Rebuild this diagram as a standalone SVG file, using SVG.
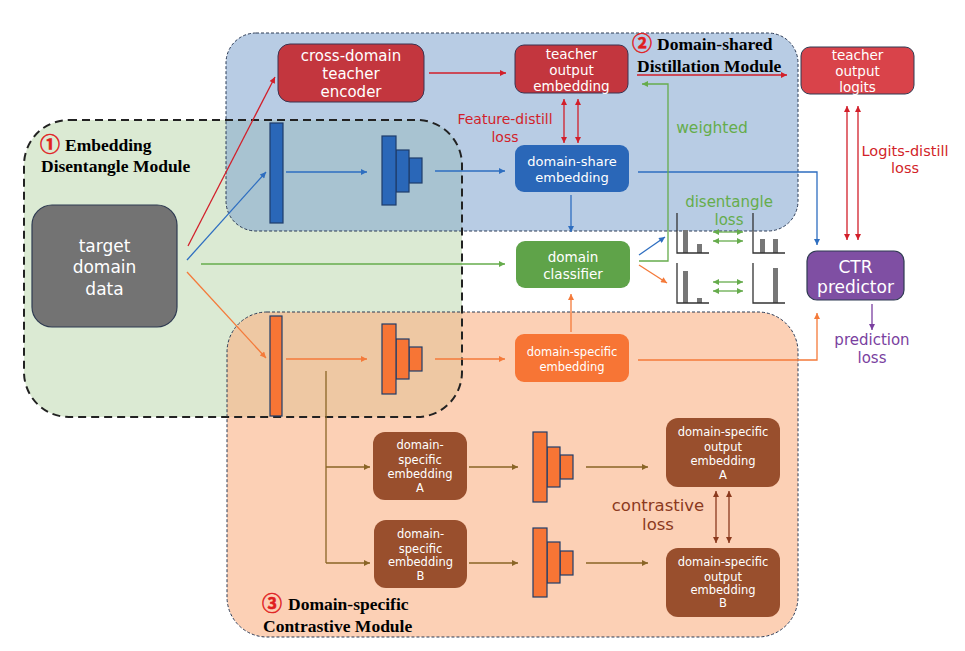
<svg xmlns="http://www.w3.org/2000/svg" width="965" height="651" viewBox="0 0 965 651">
<style>
.t{font-family:"DejaVu Sans","Noto Sans",sans-serif;text-anchor:middle;fill:#fff}
.lb{font-family:"DejaVu Sans","Noto Sans",sans-serif;text-anchor:middle}
.b{font-family:"Liberation Serif","Times New Roman",serif;font-weight:bold;font-size:17.5px;fill:#000}
.c{font-family:"Noto Sans CJK SC","DejaVu Sans",sans-serif;font-size:20px;font-weight:bold;fill:#e0201f;stroke:#e0201f;stroke-width:0.5}
.ln{fill:none;stroke-width:1.3}
.r{stroke:#d21f2a}.bl{stroke:#2e6ec0}.g{stroke:#66ac4c}.o{stroke:#f47a3a}.br{stroke:#8a6526}.db{stroke:#8b3a1e}.p{stroke:#7a3fa0}
.bar{stroke:#1f3c6a;stroke-width:1.2}
.ax{fill:none;stroke:#333;stroke-width:1.3}
.hb{fill:#777}
</style>
<defs>
<marker id="mr" viewBox="0 0 10 10" refX="10" refY="5" markerWidth="8" markerHeight="6" markerUnits="userSpaceOnUse" orient="auto-start-reverse"><path d="M0,0L10,5L0,10z" fill="#d21f2a"/></marker>
<marker id="mb" viewBox="0 0 10 10" refX="10" refY="5" markerWidth="8" markerHeight="6" markerUnits="userSpaceOnUse" orient="auto-start-reverse"><path d="M0,0L10,5L0,10z" fill="#2e6ec0"/></marker>
<marker id="mg" viewBox="0 0 10 10" refX="10" refY="5" markerWidth="8" markerHeight="6" markerUnits="userSpaceOnUse" orient="auto-start-reverse"><path d="M0,0L10,5L0,10z" fill="#66ac4c"/></marker>
<marker id="mo" viewBox="0 0 10 10" refX="10" refY="5" markerWidth="8" markerHeight="6" markerUnits="userSpaceOnUse" orient="auto-start-reverse"><path d="M0,0L10,5L0,10z" fill="#f47a3a"/></marker>
<marker id="mbr" viewBox="0 0 10 10" refX="10" refY="5" markerWidth="8" markerHeight="6" markerUnits="userSpaceOnUse" orient="auto-start-reverse"><path d="M0,0L10,5L0,10z" fill="#8a6526"/></marker>
<marker id="mdb" viewBox="0 0 10 10" refX="10" refY="5" markerWidth="8" markerHeight="6" markerUnits="userSpaceOnUse" orient="auto-start-reverse"><path d="M0,0L10,5L0,10z" fill="#8b3a1e"/></marker>
<marker id="mp" viewBox="0 0 10 10" refX="10" refY="5" markerWidth="8" markerHeight="6" markerUnits="userSpaceOnUse" orient="auto-start-reverse"><path d="M0,0L10,5L0,10z" fill="#7a3fa0"/></marker>
</defs>
<rect width="965" height="651" fill="#fff"/>

<g id="regions">
<rect x="24" y="120" width="438" height="297" rx="45" fill="#dbead3"/>
<rect x="226" y="33" width="572" height="198" rx="30" fill="rgb(130,166,208)" fill-opacity="0.57"/>
<rect x="227" y="312" width="571" height="325" rx="40" fill="rgb(250,177,132)" fill-opacity="0.6"/>
<rect x="226" y="33" width="572" height="198" rx="30" fill="none" stroke="#2b3a55" stroke-width="1" stroke-dasharray="3 2"/>
<rect x="227" y="312" width="571" height="325" rx="40" fill="none" stroke="#2b3a55" stroke-width="1" stroke-dasharray="3 2"/>
<rect x="24" y="120" width="438" height="297" rx="45" fill="none" stroke="#222" stroke-width="2" stroke-dasharray="8 5"/>
</g>

<g id="connectors">
<line class="ln r" x1="188" y1="246" x2="275" y2="77" marker-end="url(#mr)"/>
<line class="ln r" x1="429" y1="73" x2="506" y2="73" marker-end="url(#mr)"/>
<line class="ln r" x1="637" y1="75" x2="787" y2="75" marker-end="url(#mr)"/>
<line class="ln r" x1="564" y1="99" x2="564" y2="143" marker-start="url(#mr)" marker-end="url(#mr)"/>
<line class="ln r" x1="578" y1="99" x2="578" y2="143" marker-start="url(#mr)" marker-end="url(#mr)"/>
<line class="ln r" x1="847" y1="106" x2="847" y2="240" marker-start="url(#mr)" marker-end="url(#mr)"/>
<line class="ln r" x1="858" y1="106" x2="858" y2="240" marker-start="url(#mr)" marker-end="url(#mr)"/>

<line class="ln bl" x1="187" y1="260" x2="266" y2="172" marker-end="url(#mb)"/>
<line class="ln bl" x1="286" y1="172" x2="367" y2="172" marker-end="url(#mb)"/>
<line class="ln bl" x1="435" y1="171" x2="505" y2="171" marker-end="url(#mb)"/>
<line class="ln bl" x1="571" y1="195" x2="571" y2="232" marker-end="url(#mb)"/>
<polyline class="ln bl" points="638,172 817,172 817,245" marker-end="url(#mb)"/>
<line class="ln bl" x1="639" y1="255" x2="665" y2="237" marker-end="url(#mb)"/>

<line class="ln g" x1="201" y1="264" x2="505" y2="264" marker-end="url(#mg)"/>
<polyline class="ln g" points="639,261 668,261 668,84 642,84" marker-end="url(#mg)"/>
<line class="ln g" x1="713" y1="232" x2="743" y2="232" marker-start="url(#mg)" marker-end="url(#mg)"/>
<line class="ln g" x1="713" y1="241" x2="743" y2="241" marker-start="url(#mg)" marker-end="url(#mg)"/>
<line class="ln g" x1="713" y1="282" x2="743" y2="282" marker-start="url(#mg)" marker-end="url(#mg)"/>
<line class="ln g" x1="713" y1="291" x2="743" y2="291" marker-start="url(#mg)" marker-end="url(#mg)"/>

<line class="ln o" x1="639" y1="265" x2="667" y2="283" marker-end="url(#mo)"/>
<line class="ln o" x1="187" y1="272" x2="266" y2="358" marker-end="url(#mo)"/>
<line class="ln o" x1="286" y1="359" x2="367" y2="359" marker-end="url(#mo)"/>
<line class="ln o" x1="435" y1="359" x2="505" y2="359" marker-end="url(#mo)"/>
<line class="ln o" x1="571" y1="332" x2="571" y2="294" marker-end="url(#mo)"/>
<polyline class="ln o" points="638,360 817,360 817,313" marker-end="url(#mo)"/>

<line class="ln p" x1="872" y1="304" x2="872" y2="330" marker-end="url(#mp)"/>

<line class="ln br" x1="326" y1="371" x2="326" y2="563"/>
<line class="ln br" x1="326" y1="467" x2="370" y2="467" marker-end="url(#mbr)"/>
<line class="ln br" x1="326" y1="563" x2="370" y2="563" marker-end="url(#mbr)"/>
<line class="ln br" x1="469" y1="467" x2="518" y2="467" marker-end="url(#mbr)"/>
<line class="ln br" x1="469" y1="563" x2="518" y2="563" marker-end="url(#mbr)"/>
<line class="ln br" x1="586" y1="467" x2="648" y2="467" marker-end="url(#mbr)"/>
<line class="ln br" x1="586" y1="563" x2="648" y2="563" marker-end="url(#mbr)"/>
<line class="ln db" x1="716" y1="491" x2="716" y2="543" marker-start="url(#mdb)" marker-end="url(#mdb)"/>
<line class="ln db" x1="729" y1="491" x2="729" y2="543" marker-start="url(#mdb)" marker-end="url(#mdb)"/>
</g>

<g id="target-domain-data">
<rect x="32" y="205" width="145" height="122" rx="20" fill="#737373" stroke="#2f3b52" stroke-width="1.2"/>
<text class="t" font-size="17" x="104.5"><tspan x="104.5" y="252">target</tspan><tspan x="104.5" y="273">domain</tspan><tspan x="104.5" y="295">data</tspan></text>
</g>

<g id="cross-domain-teacher-encoder">
<rect x="278" y="44" width="146" height="58" rx="12" fill="#c3363e" stroke="#3a3350" stroke-width="1"/>
<text class="t" font-size="15"><tspan x="351" y="61">cross-domain</tspan><tspan x="351" y="79">teacher</tspan><tspan x="351" y="97">encoder</tspan></text>
</g>

<g id="teacher-output-embedding">
<rect x="515" y="45" width="113" height="48" rx="9" fill="#c3363e" stroke="#3a3350" stroke-width="1"/>
<text class="t" font-size="13.5"><tspan x="571.5" y="59">teacher</tspan><tspan x="571.5" y="75">output</tspan><tspan x="571.5" y="91">embedding</tspan></text>
</g>

<g id="teacher-output-logits">
<rect x="801" y="47" width="113" height="47" rx="9" fill="#d9434a" stroke="#2f3b52" stroke-width="1"/>
<text class="t" font-size="13.5"><tspan x="857.5" y="60">teacher</tspan><tspan x="857.5" y="76">output</tspan><tspan x="857.5" y="92">logits</tspan></text>
</g>

<g id="domain-share-embedding">
<rect x="515" y="145" width="114" height="47" rx="9" fill="#2a67b8"/>
<text class="t" font-size="13"><tspan x="572" y="166">domain-share</tspan><tspan x="572" y="182">embedding</tspan></text>
</g>

<g id="domain-classifier">
<rect x="516" y="241" width="114" height="47" rx="9" fill="#5fa349"/>
<text class="t" font-size="13.5"><tspan x="573" y="262">domain</tspan><tspan x="573" y="279">classifier</tspan></text>
</g>

<g id="domain-specific-embedding">
<rect x="515" y="334" width="114" height="48" rx="9" fill="#f77535"/>
<text class="t" font-size="11.5"><tspan x="572" y="356">domain-specific</tspan><tspan x="572" y="371">embedding</tspan></text>
</g>

<g id="ctr-predictor">
<rect x="807" y="251" width="97" height="49" rx="10" fill="#7f4fa3" stroke="#2f3b52" stroke-width="1.2"/>
<text class="t" font-size="17"><tspan x="855.5" y="273">CTR</tspan><tspan x="855.5" y="293">predictor</tspan></text>
</g>

<g id="dse-a">
<rect x="373" y="432" width="94" height="68" rx="12" fill="#994f2d"/>
<text class="t" font-size="11.5"><tspan x="420" y="449">domain-</tspan><tspan x="420" y="464">specific</tspan><tspan x="420" y="478">embedding</tspan><tspan x="420" y="492">A</tspan></text>
</g>

<g id="dse-b">
<rect x="374" y="520" width="93" height="68" rx="12" fill="#994f2d"/>
<text class="t" font-size="11.5"><tspan x="420.5" y="538">domain-</tspan><tspan x="420.5" y="553">specific</tspan><tspan x="420.5" y="566">embedding</tspan><tspan x="420.5" y="580">B</tspan></text>
</g>

<g id="dsoe-a">
<rect x="666" y="418" width="114" height="69" rx="12" fill="#994f2d"/>
<text class="t" font-size="11.5"><tspan x="723" y="436">domain-specific</tspan><tspan x="723" y="451">output</tspan><tspan x="723" y="465">embedding</tspan><tspan x="723" y="479">A</tspan></text>
</g>

<g id="dsoe-b">
<rect x="666" y="548" width="114" height="69" rx="12" fill="#994f2d"/>
<text class="t" font-size="11.5"><tspan x="723" y="566">domain-specific</tspan><tspan x="723" y="581">output</tspan><tspan x="723" y="594">embedding</tspan><tspan x="723" y="607">B</tspan></text>
</g>

<g id="blue-layers">
<rect class="bar" x="270" y="123" width="13" height="100" fill="#2a67b8"/>
<rect class="bar" x="409" y="158" width="13" height="25" fill="#2a67b8"/>
<rect class="bar" x="396" y="150" width="13" height="42" fill="#2a67b8"/>
<rect class="bar" x="382" y="136" width="14" height="69" fill="#2a67b8"/>
</g>

<g id="orange-layers">
<rect class="bar" x="270" y="316" width="12" height="100" fill="#f77535"/>
<rect class="bar" x="409" y="347" width="13" height="24" fill="#f77535"/>
<rect class="bar" x="396" y="339" width="13" height="40" fill="#f77535"/>
<rect class="bar" x="382" y="324" width="14" height="70" fill="#f77535"/>
<rect class="bar" x="560" y="455" width="13" height="24" fill="#f77535"/>
<rect class="bar" x="547" y="447" width="13" height="40" fill="#f77535"/>
<rect class="bar" x="533" y="432" width="14" height="70" fill="#f77535"/>
<rect class="bar" x="560" y="551" width="13" height="24" fill="#f77535"/>
<rect class="bar" x="547" y="542" width="13" height="41" fill="#f77535"/>
<rect class="bar" x="533" y="528" width="14" height="69" fill="#f77535"/>
</g>

<g id="histograms">
<rect class="hb" x="683" y="230" width="5" height="23"/>
<rect class="hb" x="697" y="244" width="5" height="9"/>
<polyline class="ax" points="677,213 677,253 709,253"/>
<rect class="hb" x="760" y="239" width="5" height="14"/>
<rect class="hb" x="773" y="239" width="5" height="14"/>
<polyline class="ax" points="753,213 753,253 785,253"/>
<rect class="hb" x="683" y="271" width="5" height="32"/>
<rect class="hb" x="697" y="298" width="5" height="5"/>
<polyline class="ax" points="677,263 677,303 709,303"/>
<rect class="hb" x="773" y="268" width="5" height="35"/>
<polyline class="ax" points="753,263 753,303 785,303"/>
</g>

<g id="labels">
<text class="lb" font-size="14" fill="#d21f2a"><tspan x="505" y="124">Feature-distill</tspan><tspan x="505" y="142">loss</tspan></text>
<text class="lb" font-size="15.5" fill="#66ac4c" x="712" y="133">weighted</text>
<text class="lb" font-size="15" fill="#66ac4c"><tspan x="729" y="207">disentangle</tspan><tspan x="729" y="225">loss</tspan></text>
<text class="lb" font-size="14.5" fill="#d21f2a"><tspan x="905" y="156">Logits-distill</tspan><tspan x="905" y="173">loss</tspan></text>
<text class="lb" font-size="15" fill="#7a3fa0"><tspan x="872" y="345">prediction</tspan><tspan x="872" y="363">loss</tspan></text>
<text class="lb" font-size="16.5" fill="#8b3a1e"><tspan x="658" y="511">contrastive</tspan><tspan x="658" y="530">loss</tspan></text>

<text class="c" x="40" y="152">①</text>
<text class="b" x="65" y="151">Embedding</text>
<text class="b" x="41" y="172">Disentangle Module</text>
<text class="c" x="632" y="51">②</text>
<text class="b" x="657" y="50">Domain-shared</text>
<text class="b" x="637" y="72">Distillation Module</text>
<text class="c" x="262" y="611">③</text>
<text class="b" x="288" y="610">Domain-specific</text>
<text class="b" x="263" y="632">Contrastive Module</text>
</g>
</svg>
